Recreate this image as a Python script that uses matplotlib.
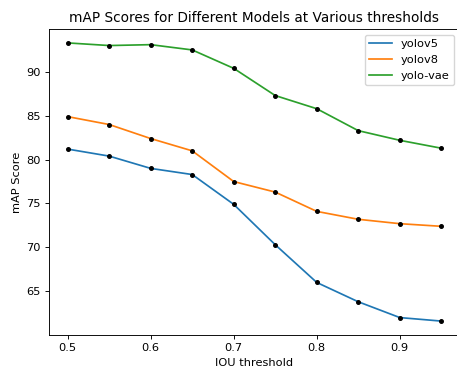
import numpy as np
import matplotlib
matplotlib.use("Agg")
import matplotlib.pyplot as plt

thresholds = [0.5, 0.55, 0.6, 0.65, 0.7, 0.75, 0.8, 0.85, 0.9, 0.95]
yolov5 = [81.2, 80.4, 79.0, 78.3, 74.9, 70.3, 66.0, 63.8, 62.0, 61.6]
yolov8 = [84.9, 84.0, 82.4, 81.0, 77.5, 76.3, 74.1, 73.2, 72.7, 72.4]
yolo_vae = [93.3, 93.0, 93.1, 92.5, 90.4, 87.3, 85.8, 83.3, 82.2, 81.3]

# the original looks like a default figure shrunk a bit
k = 0.82
plt.rcParams.update({
    "font.size": 10 * k,
    "axes.titlesize": 12 * k,
    "lines.linewidth": 1.5 * k,
    "axes.linewidth": 0.8 * k,
    "xtick.major.size": 3.5 * k,
    "ytick.major.size": 3.5 * k,
    "xtick.major.width": 0.8 * k,
    "ytick.major.width": 0.8 * k,
    "xtick.major.pad": 3.5 * k,
    "ytick.major.pad": 3.5 * k,
    "legend.fontsize": 10 * k,
})

fig = plt.figure(figsize=(4.57, 3.7), dpi=100)
# axes run slightly past the right edge, like the cropped original
ax = fig.add_axes([49 / 457, 35 / 370, 411 / 457, 306 / 370])

for name, scores in [("yolov5", yolov5), ("yolov8", yolov8), ("yolo-vae", yolo_vae)]:
    ax.plot(thresholds, scores, label=name)
    ax.scatter(thresholds, scores, color="black", s=8 * k, zorder=3)

ax.set_title("mAP Scores for Different Models at Various thresholds", pad=6 * k)
ax.set_xlabel("IOU threshold", labelpad=4 * k)
ax.set_ylabel("mAP Score", labelpad=4 * k)
ax.legend(loc="upper right")

fig.savefig("out.png", dpi=100)
